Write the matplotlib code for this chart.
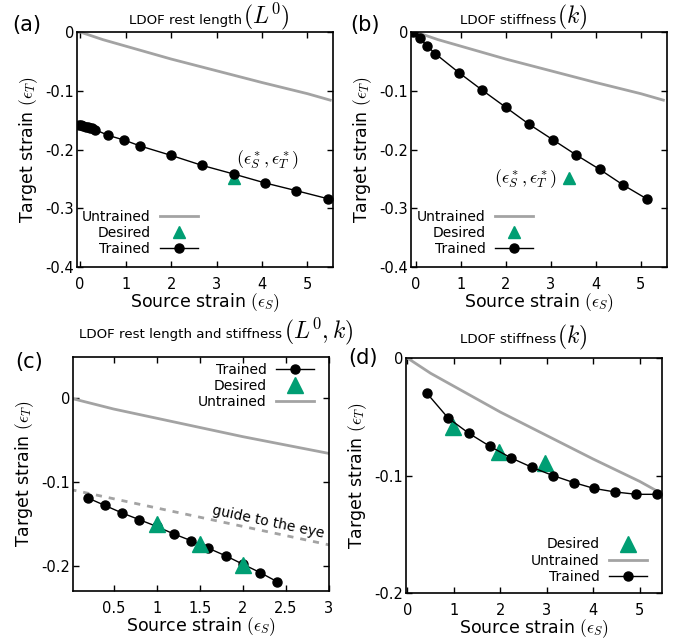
import matplotlib
matplotlib.use("Agg")
import matplotlib.pyplot as plt

plt.rcParams["mathtext.fontset"] = "cm"
plt.rcParams["axes.unicode_minus"] = False

# untrained response (same network in every panel)
untrained_x = [0, 0.5, 1, 2, 3, 4, 5, 5.5]
untrained_y = [0, -0.013, -0.024, -0.046, -0.066, -0.086, -0.105, -0.116]

# (a) rest length training
a_x = [-0.03, 0.02, 0.07, 0.12, 0.17, 0.22, 0.27, 0.32, 0.62, 0.97, 1.32, 2.0, 2.68, 3.39, 4.07, 4.75, 5.46]
a_y = [-0.158, -0.159, -0.160, -0.161, -0.162, -0.163, -0.164, -0.166, -0.176, -0.184, -0.194,
       -0.210, -0.227, -0.242, -0.257, -0.270, -0.284]
a_des_x = [3.39]
a_des_y = [-0.249]

# (b) stiffness training
b_x = [-0.05, 0.1, 0.26, 0.44, 0.96, 1.48, 2.0, 2.52, 3.04, 3.56, 4.09, 4.6, 5.13]
b_y = [0.0, -0.011, -0.024, -0.037, -0.069, -0.099, -0.128, -0.157, -0.183, -0.209, -0.234, -0.260, -0.284]
b_des_x = [3.41]
b_des_y = [-0.249]

# (c) rest length and stiffness
c_x = [0.2, 0.4, 0.6, 0.8, 1.0, 1.2, 1.4, 1.6, 1.8, 2.0, 2.2, 2.4]
c_y = [-0.119, -0.128, -0.137, -0.145, -0.153, -0.162, -0.170, -0.179, -0.188, -0.198, -0.208, -0.219]
c_des_x = [1.0, 1.5, 2.0]
c_des_y = [-0.150, -0.174, -0.199]
guide_x = [0, 3]
guide_y = [-0.109, -0.175]

# (d) stiffness, several targets
d_x = [0.42, 0.875, 1.32, 1.77, 2.23, 2.68, 3.13, 3.58, 4.02, 4.47, 4.93, 5.37]
d_y = [-0.030, -0.051, -0.064, -0.075, -0.085, -0.093, -0.100, -0.106, -0.111, -0.114, -0.116, -0.116]
d_des_x = [0.98, 1.98, 2.97]
d_des_y = [-0.059, -0.080, -0.089]

x_ticks_long = [0, 1, 2, 3, 4, 5]
x_labels_long = ["0", "1", "2", "3", "4", "5"]
x_ticks_c = [0.5, 1, 1.5, 2, 2.5, 3]
x_labels_c = ["0.5", "1", "1.5", "2", "2.5", "3"]
y_ticks_ab = [0, -0.1, -0.2, -0.3, -0.4]
y_labels_ab = ["0", "-0.1", "-0.2", "-0.3", "-0.4"]
y_ticks_cd = [0, -0.1, -0.2]
y_labels_cd = ["0", "-0.1", "-0.2"]

GRAY = "#a3a3a3"
GREEN = "#009e73"

fig = plt.figure(figsize=(6.74, 6.4), dpi=100)
ax_a = fig.add_axes([0.1142, 0.5828, 0.3798, 0.3672])
ax_b = fig.add_axes([0.6098, 0.5828, 0.3798, 0.3672])
ax_c = fig.add_axes([0.1083, 0.0766, 0.3798, 0.3656])
ax_d = fig.add_axes([0.6024, 0.0734, 0.3798, 0.3672])


def style(ax, xt, xl, yt, yl, xlim, ylim):
    ax.set_xlim(*xlim)
    ax.set_ylim(*ylim)
    ax.set_xticks(xt)
    ax.set_xticklabels(xl)
    ax.set_yticks(yt)
    ax.set_yticklabels(yl)
    ax.tick_params(direction="in", top=True, right=True, length=4, width=1, labelsize=10.5)
    ax.tick_params(axis="x", pad=7)
    ax.tick_params(axis="y", pad=2)
    for s in ax.spines.values():
        s.set_linewidth(1.2)
    ax.set_xlabel(r"Source strain $(\epsilon_S)$", fontsize=12.5, labelpad=0)
    ax.set_ylabel(r"Target strain $(\epsilon_T)$", fontsize=12.5, labelpad=4)


def title(ax, j, y, plain, math):
    ax.text(j, y, plain, transform=ax.transAxes, ha="right", va="baseline", fontsize=9.6)
    ax.text(j + 0.005, y, math, transform=ax.transAxes, ha="left", va="baseline", fontsize=17)


leg_kw = dict(frameon=False, markerfirst=False, fontsize=10, handlelength=2.7,
              handletextpad=0.7, labelspacing=0.15, borderpad=0, borderaxespad=0)

# (a)
ax_a.plot(untrained_x, untrained_y, color=GRAY, lw=2, label="Untrained")
ax_a.plot(a_des_x, a_des_y, ls="none", marker="^", ms=8, color=GREEN, label="Desired")
ax_a.plot(a_x, a_y, color="black", lw=1, marker="o", ms=6.5, label="Trained")
ax_a.text(4.13, -0.218, r"$(\epsilon_S^*, \epsilon_T^*)$", ha="center", va="center", fontsize=13)
style(ax_a, x_ticks_long, x_labels_long, y_ticks_ab, y_labels_ab, (-0.07, 5.56), (-0.4, 0))
ax_a.legend(loc="lower left", bbox_to_anchor=(0.018, 0.047), **leg_kw)
title(ax_a, 0.645, 1.036, "LDOF rest length", r"$(L^0)$")

# (b)
ax_b.plot(untrained_x, untrained_y, color=GRAY, lw=2, label="Untrained")
ax_b.plot(b_des_x, b_des_y, ls="none", marker="^", ms=8, color=GREEN, label="Desired")
ax_b.plot(b_x, b_y, color="black", lw=1, marker="o", ms=6.5, label="Trained")
ax_b.text(2.45, -0.249, r"$(\epsilon_S^*, \epsilon_T^*)$", ha="center", va="center", fontsize=13)
style(ax_b, x_ticks_long, x_labels_long, y_ticks_ab, y_labels_ab, (-0.1, 5.58), (-0.4, 0))
ax_b.legend(loc="lower left", bbox_to_anchor=(0.023, 0.047), **leg_kw)
title(ax_b, 0.566, 1.036, "LDOF stiffness", r"$(k)$")

# (c)
ax_c.plot(guide_x, guide_y, color=GRAY, lw=2, dashes=(2.2, 2.5))
ax_c.text(2.3, -0.148, "guide to the eye", rotation=-12, ha="center", va="center", fontsize=10)
ax_c.plot(c_x, c_y, color="black", lw=1, marker="o", ms=6.5, label="Trained")
ax_c.plot(c_des_x, c_des_y, ls="none", marker="^", ms=12, color=GREEN, label="Desired")
ax_c.plot(untrained_x, untrained_y, color=GRAY, lw=2, label="Untrained")
style(ax_c, x_ticks_c, x_labels_c, y_ticks_cd, y_labels_cd, (0.03, 3), (-0.23, 0.049))
ax_c.legend(loc="upper right", bbox_to_anchor=(0.94, 0.975), **leg_kw)
title(ax_c, 0.818, 1.081, "LDOF rest length and stiffness", r"$(L^0, k)$")

# (d)
ax_d.plot(d_des_x, d_des_y, ls="none", marker="^", ms=12, color=GREEN, label="Desired")
ax_d.plot(untrained_x, untrained_y, color=GRAY, lw=2, label="Untrained")
ax_d.plot(d_x, d_y, color="black", lw=1, marker="o", ms=6.5, label="Trained")
style(ax_d, x_ticks_long, x_labels_long, y_ticks_cd, y_labels_cd, (-0.03, 5.48), (-0.2, 0))
ax_d.legend(loc="lower right", bbox_to_anchor=(0.94, 0.04), **leg_kw)
title(ax_d, 0.586, 1.063, "LDOF stiffness", r"$(k)$")

# panel letters
fig.text(27 / 674, 1 - 25 / 640, "(a)", ha="center", va="center", fontsize=15)
fig.text(365 / 674, 1 - 25 / 640, "(b)", ha="center", va="center", fontsize=15)
fig.text(29 / 674, 1 - 362 / 640, "(c)", ha="center", va="center", fontsize=15)
fig.text(363 / 674, 1 - 358 / 640, "(d)", ha="center", va="center", fontsize=15)

fig.savefig("out.png", dpi=100)
